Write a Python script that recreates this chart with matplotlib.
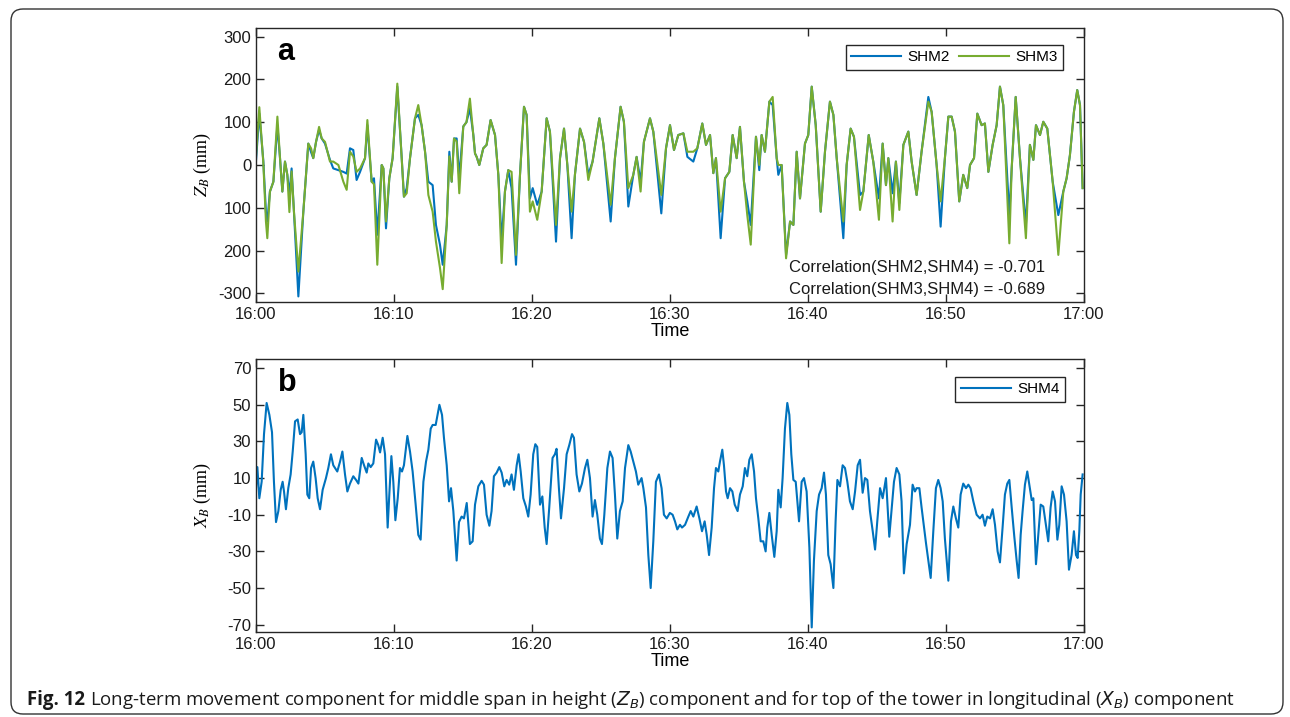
import matplotlib
matplotlib.use("Agg")
import matplotlib.pyplot as plt
from matplotlib.patches import FancyBboxPatch
from matplotlib.transforms import IdentityTransform

# Panel a: vertical displacement of the middle span, minutes after 16:00
time_a = [0.00, 0.24, 0.53, 0.72, 0.82, 1.01, 1.26, 1.55, 1.74, 1.91, 2.10, 2.27, 2.42, 2.58, 2.75,
          3.07, 3.43, 3.79, 3.99, 4.15, 4.35, 4.57, 4.76, 5.00, 5.36, 5.60, 5.97, 6.33, 6.57, 6.81,
          7.05, 7.29, 7.54, 7.90, 8.07, 8.38, 8.55, 8.79, 9.11, 9.23, 9.42, 9.66, 9.90, 10.24, 10.56,
          10.72, 10.92, 11.16, 11.52, 11.76, 12.00, 12.25, 12.49, 12.80, 13.04, 13.33, 13.53, 13.82,
          14.01, 14.18, 14.35, 14.54, 14.73, 15.02, 15.25, 15.50, 15.75, 15.87, 15.99, 16.18, 16.47,
          16.71, 17.00, 17.32, 17.56, 17.80, 18.04, 18.28, 18.52, 18.84, 19.13, 19.42, 19.61, 19.85,
          20.05, 20.38, 20.70, 21.06, 21.30, 21.74, 22.03, 22.32, 22.56, 22.87, 23.11, 23.48, 23.77,
          24.08, 24.39, 24.88, 25.17, 25.70, 26.01, 26.42, 26.66, 26.98, 27.34, 27.58, 27.87, 28.11,
          28.55, 28.79, 29.37, 29.71, 30.00, 30.29, 30.60, 30.97, 31.26, 31.69, 31.98, 32.34, 32.61,
          32.90, 33.14, 33.33, 33.67, 33.99, 34.30, 34.54, 34.83, 35.07, 35.36, 35.60, 35.85, 36.23,
          36.47, 36.64, 36.88, 37.20, 37.44, 37.73, 37.85, 38.09, 38.41, 38.70, 38.94, 39.18, 39.42,
          39.78, 40.02, 40.27, 40.56, 40.92, 41.23, 41.59, 41.84, 42.08, 42.56, 42.80, 43.09, 43.33,
          43.77, 44.01, 44.40, 44.73, 45.14, 45.41, 45.65, 45.82, 46.13, 46.37, 46.62, 46.91, 47.27,
          47.51, 47.87, 48.23, 48.72, 48.96, 49.32, 49.61, 49.92, 50.17, 50.41, 50.65, 50.96, 51.25,
          51.54, 51.74, 52.03, 52.27, 52.58, 52.82, 53.07, 53.38, 53.67, 53.91, 54.15, 54.59, 54.76,
          55.05, 55.36, 55.79, 56.08, 56.33, 56.52, 56.81, 57.05, 57.34, 57.73, 58.14, 58.50, 58.74,
          58.98, 59.27, 59.51, 59.71, 59.90]
shm2 = [10, 120, 10, -110, -132, -62, -39, 93, 16, -62, 8, -23, -70, -8, -109,
        -307, -109, 50, 30, 16, 54, 82, 62, 50, 12, -8, -12, -16, -20, 39,
        35, -35, -16, 16, 93, -39, -31, -163, 0, -8, -148, -31, 16, 183, 16,
        -74, -54, 16, 109, 117, 93, 31, -39, -47, -140, -186, -233, -140,
        31, -39, 62, 62, -30, 90, 100, 132, 70, 27, 19, 0, 39,
        47, 105, 70, -23, -179, -62, -12, -54, -233, -23, 136, 117, -78,
        -54, -93, -62, 109, 78, -179, 16, 85, 0, -171, -23, 85, 54,
        -23, 8, 109, 50, -132, 16, 136, 101, -97, -23, 19, -39, 54,
        109, 78, -113, 39, 93, 35, 70, 74, 19, 8, 39, 97, 47,
        70, -19, 16, -171, -31, -16, 70, 16, 89, -39, -85, -140, 66,
        -12, 70, 31, 148, 140, 16, -23, 0, -210, -132, -140, 31, -78,
        50, 70, 183, 93, -109, 31, 148, 117, 16, -171, 0, 85, 66,
        -70, -62, 70, 8, -78, 50, -47, 16, -66, 8, -89, 47, 78,
        8, -70, 31, 159, 124, 0, -144, 16, 113, 113, 78, -85, -23,
        -54, 0, 16, 120, 93, 97, -16, 47, 93, 183, 140, -117, -8,
        159, 16, -140, 47, 12, 93, 70, 101, 85, -39, -117, -62, -31,
        23, 124, 175, 140, -54]
shm3 = [20, 135, 5, -132, -171, -62, -39, 113, 16, -62, 8, -23, -110, -15, -109,
        -249, -109, 50, 39, 16, 54, 89, 62, 54, 8, 8, 0, -39, -58, 31,
        20, -16, -8, 16, 105, -39, -45, -233, 0, -8, -132, -31, 16, 190, 16,
        -74, -66, 16, 109, 140, 93, 31, -70, -109, -179, -240, -290, -140,
        20, -39, 62, 55, -66, 90, 100, 155, 70, 27, 19, 0, 39,
        47, 105, 70, -23, -229, -62, -12, -16, -210, -23, 136, 117, -109,
        -85, -128, -62, 109, 78, -140, 16, 85, 0, -109, -23, 85, 54,
        -35, 8, 109, 50, -93, 16, 136, 101, -54, -23, 19, -62, 54,
        109, 78, -70, 39, 93, 35, 70, 74, 31, 31, 39, 97, 47,
        70, -19, 16, -109, -31, -16, 70, 16, 89, -39, -117, -186, 66,
        0, 70, 31, 148, 159, 16, 0, 0, -218, -132, -140, 31, -78,
        50, 70, 183, 93, -109, 31, 148, 117, 16, -132, 0, 85, 66,
        -105, -62, 70, 8, -128, 50, -47, 16, -132, 8, -105, 47, 78,
        8, -70, 31, 148, 124, 0, -85, 16, 113, 113, 78, -85, -23,
        -54, 0, 16, 120, 93, 97, -16, 47, 93, 183, 140, -183, -8,
        159, 16, -171, 47, 12, 93, 70, 101, 85, -39, -210, -62, -31,
        23, 124, 175, 140, -54]

# Panel b: longitudinal displacement at the tower top
time_b = [0.00, 0.10, 0.24, 0.41, 0.58, 0.77, 0.97, 1.16, 1.30, 1.45, 1.62, 1.79, 1.93, 2.03, 2.17,
          2.34, 2.51, 2.66, 2.83, 3.02, 3.19, 3.31, 3.43, 3.60, 3.72, 3.86, 3.99, 4.15, 4.32, 4.47,
          4.64, 4.83, 5.07, 5.24, 5.43, 5.60, 5.89, 6.09, 6.26, 6.45, 6.62, 6.81, 7.05, 7.25, 7.42,
          7.66, 7.83, 8.02, 8.14, 8.31, 8.50, 8.70, 8.86, 8.99, 9.18, 9.35, 9.54, 9.66, 9.81, 9.95,
          10.10, 10.27, 10.43, 10.58, 10.72, 10.97, 11.16, 11.35, 11.57, 11.76, 11.93, 12.13, 12.32,
          12.49, 12.66, 12.80, 13.02, 13.29, 13.48, 13.62, 13.82, 13.99, 14.13, 14.30, 14.54, 14.71,
          14.90, 15.07, 15.27, 15.50, 15.70, 15.87, 16.11, 16.35, 16.52, 16.71, 16.91, 17.07, 17.24,
          17.44, 17.63, 17.80, 17.99, 18.16, 18.35, 18.52, 18.69, 18.89, 19.03, 19.18, 19.37, 19.56,
          19.73, 19.90, 20.09, 20.24, 20.38, 20.58, 20.75, 20.92, 21.06, 21.25, 21.49, 21.66, 21.78,
          21.95, 22.10, 22.32, 22.51, 22.70, 22.90, 23.04, 23.23, 23.43, 23.62, 23.84, 24.01, 24.20,
          24.39, 24.56, 24.73, 24.92, 25.07, 25.24, 25.46, 25.65, 25.84, 26.01, 26.18, 26.37, 26.57,
          26.74, 26.98, 27.15, 27.34, 27.53, 27.70, 27.94, 28.07, 28.26, 28.43, 28.60, 28.79, 28.98,
          29.20, 29.39, 29.56, 29.76, 29.99, 30.19, 30.36, 30.53, 30.72, 30.87, 31.09, 31.33, 31.50,
          31.69, 31.93, 32.13, 32.32, 32.51, 32.66, 32.83, 33.02, 33.19, 33.33, 33.50, 33.62, 33.79,
          33.91, 34.06, 34.18, 34.35, 34.52, 34.69, 34.90, 35.07, 35.27, 35.43, 35.60, 35.75, 35.92,
          36.09, 36.23, 36.40, 36.57, 36.76, 36.93, 37.05, 37.20, 37.37, 37.56, 37.73, 37.85, 38.02,
          38.16, 38.33, 38.50, 38.65, 38.79, 38.94, 39.11, 39.35, 39.54, 39.71, 39.90, 40.10, 40.27,
          40.43, 40.63, 40.80, 40.99, 41.16, 41.30, 41.47, 41.64, 41.84, 42.00, 42.13, 42.32, 42.51,
          42.68, 42.85, 43.04, 43.24, 43.41, 43.60, 43.77, 43.96, 44.13, 44.30, 44.49, 44.69, 44.86,
          45.02, 45.22, 45.41, 45.65, 45.89, 46.11, 46.23, 46.42, 46.62, 46.78, 46.95, 47.15, 47.39,
          47.58, 47.75, 47.87, 48.07, 48.23, 48.55, 48.72, 48.89, 49.08, 49.27, 49.44, 49.61, 49.76,
          49.92, 50.17, 50.36, 50.53, 50.72, 50.89, 51.06, 51.25, 51.45, 51.62, 51.78, 51.98, 52.22,
          52.46, 52.65, 52.82, 52.99, 53.19, 53.38, 53.55, 53.74, 53.91, 54.10, 54.27, 54.44, 54.59,
          54.76, 54.95, 55.12, 55.26, 55.41, 55.55, 55.72, 55.89, 56.04, 56.21, 56.33, 56.52, 56.69,
          56.86, 57.05, 57.24, 57.41, 57.58, 57.73, 57.90, 58.07, 58.21, 58.38, 58.55, 58.74, 58.91,
          59.10, 59.27, 59.42, 59.54, 59.66, 59.76, 59.90]
shm4 = [4.5, 16, -1, 8, 34, 51, 44.5, 35, 8, -14, -8, 3.6, 8, 2.7, -7,
        4.5, 12, 24.5, 41, 42, 34, 35, 44.5, 23, 1, -1, 15.5, 19, 10, -1,
        -7, 3.6, 10, 15.5, 23, 17, 13.6, 19, 24.5, 12, 2.7, 7, 11, 9, 7,
        21, 17, 13, 18, 16, 18, 31, 28, 24, 32, 23, -17, 1, 22, 8,
        -13, -1, 15.5, 13.6, 17, 33, 24.5, 13.6, -4.5, -21, -23.6, 8, 19,
        25.5, 37, 39, 39, 50, 44.5, 32, 17, -2.7, 4.5, -8, -35, -14,
        -11, -12, -3.6, -26, -24.5, -4.5, 5.5, 8.5, 6.4, -10, -16, -8, 11,
        13, 16, 13, 5.5, 9, 6.4, 12, 3.6, 17, 23, 13.6, -1, -5.5,
        -11, 1, 23, 28.5, 27, -4.5, 0, -17, -26, -6, 21, 23, 26,
        4.5, -12, 4.5, 23, 28, 34, 32, 12, 2.7, 7, 15.5, 20, 10,
        -11, -2, -10, -23, -26, -10, 15.5, 24.5, 21, 1, -23, -8, -2.7,
        15.5, 28, 24.5, 19, 13.6, 6.4, 10, 4.5, -6, -32, -50, -24.5, 8,
        12, 4.5, -10, -12, -9, -10, -13.6, -18, -15.5, -17, -15.5, -11, -8,
        -11, -5.5, -12, -19, -13.6, -21, -32, -17, 4.5, 15.5, 13.6, 19, 25.5,
        17, 2.7, -1, 4.5, 2.7, -4.5, -8, 1, 5.5, 15.5, 11, 20, 23,
        13.6, -1, -12, -24.5, -24.5, -30, -17, -9, -21, -33, -19, 3.6, -6,
        10, 37, 51, 44.5, 23, 9, 8, -13.6, 8, 10, 2.7, -28, -71.5,
        -35, -8, 1, 4.5, 13, 1, -32, -37, -50, -13.6, 9, 5.5, 17,
        15.5, 8, -2.7, -7, 2.7, 17, 20, 2, 10, 9, -8, -19, -29,
        -13.6, 4.5, -1, 10, -22, -2.7, 8, 15.5, 12, -2.7, -42, -26, -15.5,
        6.4, 2.7, 4.5, 4.5, -6, -25.5, -35, -44.5, -19, 4.5, 9, 4.5, -2.7,
        -23, -46, -13.6, -5.5, -12, -17, 1, 7, 4.5, 6.4, 4.5, -2.7, -10,
        -12, -10, -16, -11, -12, -7, -15.5, -30, -36, -17, 1, 7, 9,
        -6, -22, -35, -44.5, -21, -8, 6.4, 13.6, 6.4, -2, -1, -37, -21,
        -4.5, -5.5, -15.5, -24.5, -6, 2.7, -2.7, -23.6, -15.5, 5.5, 1, -13.6, -40,
        -32, -19, -32, -33.6, -19, 1, 12]

time_ticks = [0, 10, 20, 30, 40, 50, 60]
time_labels = ['16:00', '16:10', '16:20', '16:30', '16:40', '16:50', '17:00']
z_ticks = [300, 200, 100, 0, -100, -200, -300]
z_labels = ['300', '200', '100', '0', '100', '200', '-300']
x_ticks = [70, 50, 30, 10, -10, -30, -50, -70]
corr_shm2_shm4 = -0.701
corr_shm3_shm4 = -0.689

BLUE = '#0072BD'
GREEN = '#77AC30'
AXIS_GREY = '#262626'
W, H = 1290, 717

plt.rcParams['font.family'] = ['Liberation Sans', 'DejaVu Sans']
plt.rcParams['axes.unicode_minus'] = False


def style_axes(ax):
    for sp in ax.spines.values():
        sp.set_color(AXIS_GREY)
        sp.set_linewidth(1.0)
    ax.tick_params(direction='in', top=True, right=True, length=6, width=1.0,
                   color=AXIS_GREY, labelcolor='#1a1a1a', labelsize=12)
    ax.set_xlim(0, 60)
    ax.set_xticks(time_ticks)
    ax.set_xticklabels(time_labels)
    ax.set_xlabel('Time', fontsize=13, labelpad=1)
    ax.yaxis.set_label_coords(-0.052, 0.5)


def add_legend(ax, x, y):
    leg = ax.legend(loc='upper right', bbox_to_anchor=(x, y), borderaxespad=0, ncol=2,
                    frameon=True, fancybox=False, framealpha=1, edgecolor=AXIS_GREY,
                    fontsize=11, handlelength=3.3, handletextpad=0.4, columnspacing=0.6,
                    borderpad=0.35)
    leg.get_frame().set_linewidth(1.0)


fig = plt.figure(figsize=(W / 100, H / 100), dpi=100)

# top panel
ax1 = fig.add_axes([256 / W, 1 - 302 / H, 828 / W, 274 / H])
ax1.plot(time_a, shm2, color=BLUE, lw=1.5, label='SHM2')
ax1.plot(time_a, shm3, color=GREEN, lw=1.5, label='SHM3')
style_axes(ax1)
ax1.set_ylim(-320, 320)
ax1.set_yticks(z_ticks)
ax1.set_yticklabels(z_labels)
ax1.set_ylabel('$Z_B$ (mm)', family='Liberation Serif', math_fontfamily='stix', fontsize=13)
ax1.text(0.026, 0.912, 'a', transform=ax1.transAxes, fontsize=22, fontweight='bold', va='center')
add_legend(ax1, 0.975, 0.938)
ax1.text(0.953, 0.125, 'Correlation(SHM2,SHM4) = %.3f' % corr_shm2_shm4, transform=ax1.transAxes,
         ha='right', va='center', fontsize=12, color='#1a1a1a')
ax1.text(0.953, 0.047, 'Correlation(SHM3,SHM4) = %.3f' % corr_shm3_shm4, transform=ax1.transAxes,
         ha='right', va='center', fontsize=12, color='#1a1a1a')

# bottom panel
ax2 = fig.add_axes([256 / W, 1 - 632 / H, 828 / W, 273 / H])
ax2.plot(time_b, shm4, color=BLUE, lw=1.5, label='SHM4')
style_axes(ax2)
ax2.set_ylim(-74, 75)
ax2.set_yticks(x_ticks)
ax2.set_ylabel('$X_B$ (mm)', family='Liberation Serif', math_fontfamily='stix', fontsize=13)
ax2.text(0.026, 0.912, 'b', transform=ax2.transAxes, fontsize=22, fontweight='bold', va='center')
add_legend(ax2, 0.977, 0.934)

# frame around figure and caption
frame = FancyBboxPatch((11, 3), 1272, 705, boxstyle='round,pad=0,rounding_size=12',
                       transform=IdentityTransform(), facecolor='none', edgecolor='#333333', lw=1.0)
fig.patches.append(frame)

fig.canvas.draw()
renderer = fig.canvas.get_renderer()
cap_y = 1 - 705 / H
fig_label = fig.text(27 / W, cap_y, 'Fig. 12', fontsize=13.4, fontweight='bold', va='baseline',
                     family='Open Sans', color='#1a1a1a')
bb = fig_label.get_window_extent(renderer)
fig.text((bb.x1 + 5) / W, cap_y,
         'Long-term movement component for middle span in height ($Z_B$) component and for top '
         'of the tower in longitudinal ($X_B$) component',
         fontsize=13.4, va='baseline', family='Open Sans', math_fontfamily='dejavusans',
         color='#1a1a1a')

fig.savefig('out.png', dpi=100)
